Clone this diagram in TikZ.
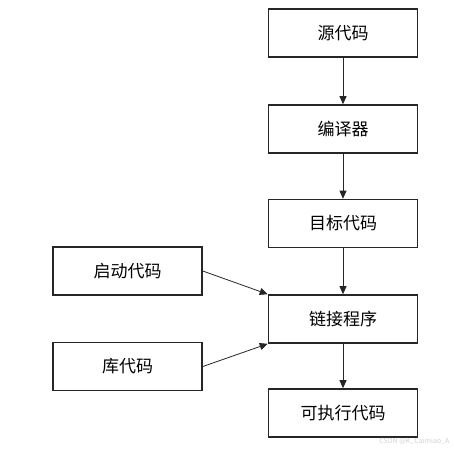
\documentclass[tikz,border=0pt]{standalone}
\usepackage{fontspec}
\setmainfont{Noto Sans CJK SC}
\usetikzlibrary{arrows.meta}

\begin{document}
\begin{tikzpicture}[
        >={Triangle[length=8pt, width=7pt]},
        % one unit = one pixel of the 454x450 picture, y pointing down
        x=1pt, y=-1pt,
        stage/.style ={draw=black!85, line width=1.6pt, minimum width=149pt, minimum height=48pt,
                font=\fontsize{17}{19}\selectfont, inner sep=2pt},
        flow/.style  ={->, line width=0.8pt, draw=black!85},
        wmtext/.style={font=\fontsize{7}{8}\selectfont, text=black!18}
    ]
    \useasboundingbox (0,0) rectangle (454,450);

    \node[stage] (src)   at (343,33)    {源代码};
    \node[stage] (comp)  at (343,129)   {编译器};
    \node[stage] (obj)   at (343,223.5) {目标代码};
    \node[stage] (link)  at (343,319)   {链接程序};
    \node[stage] (exe)   at (343,413)   {可执行代码};
    \node[stage] (start) at (127.5,271) {启动代码};
    \node[stage] (lib)   at (127.5,366.5) {库代码};

    % watermark of the source page
    \node[wmtext, anchor=east] (wm) at (453,441) {CSDN @K\_Caimiao\_A};

    \draw[flow] (src)  -- (comp);
    \draw[flow] (comp) -- (obj);
    \draw[flow] (obj)  -- (link);
    \draw[flow] (link) -- (exe);
    \draw[flow] (start.east) -- (link.north west);
    \draw[flow] (lib.east)   -- (link.south west);
\end{tikzpicture}
\end{document}
